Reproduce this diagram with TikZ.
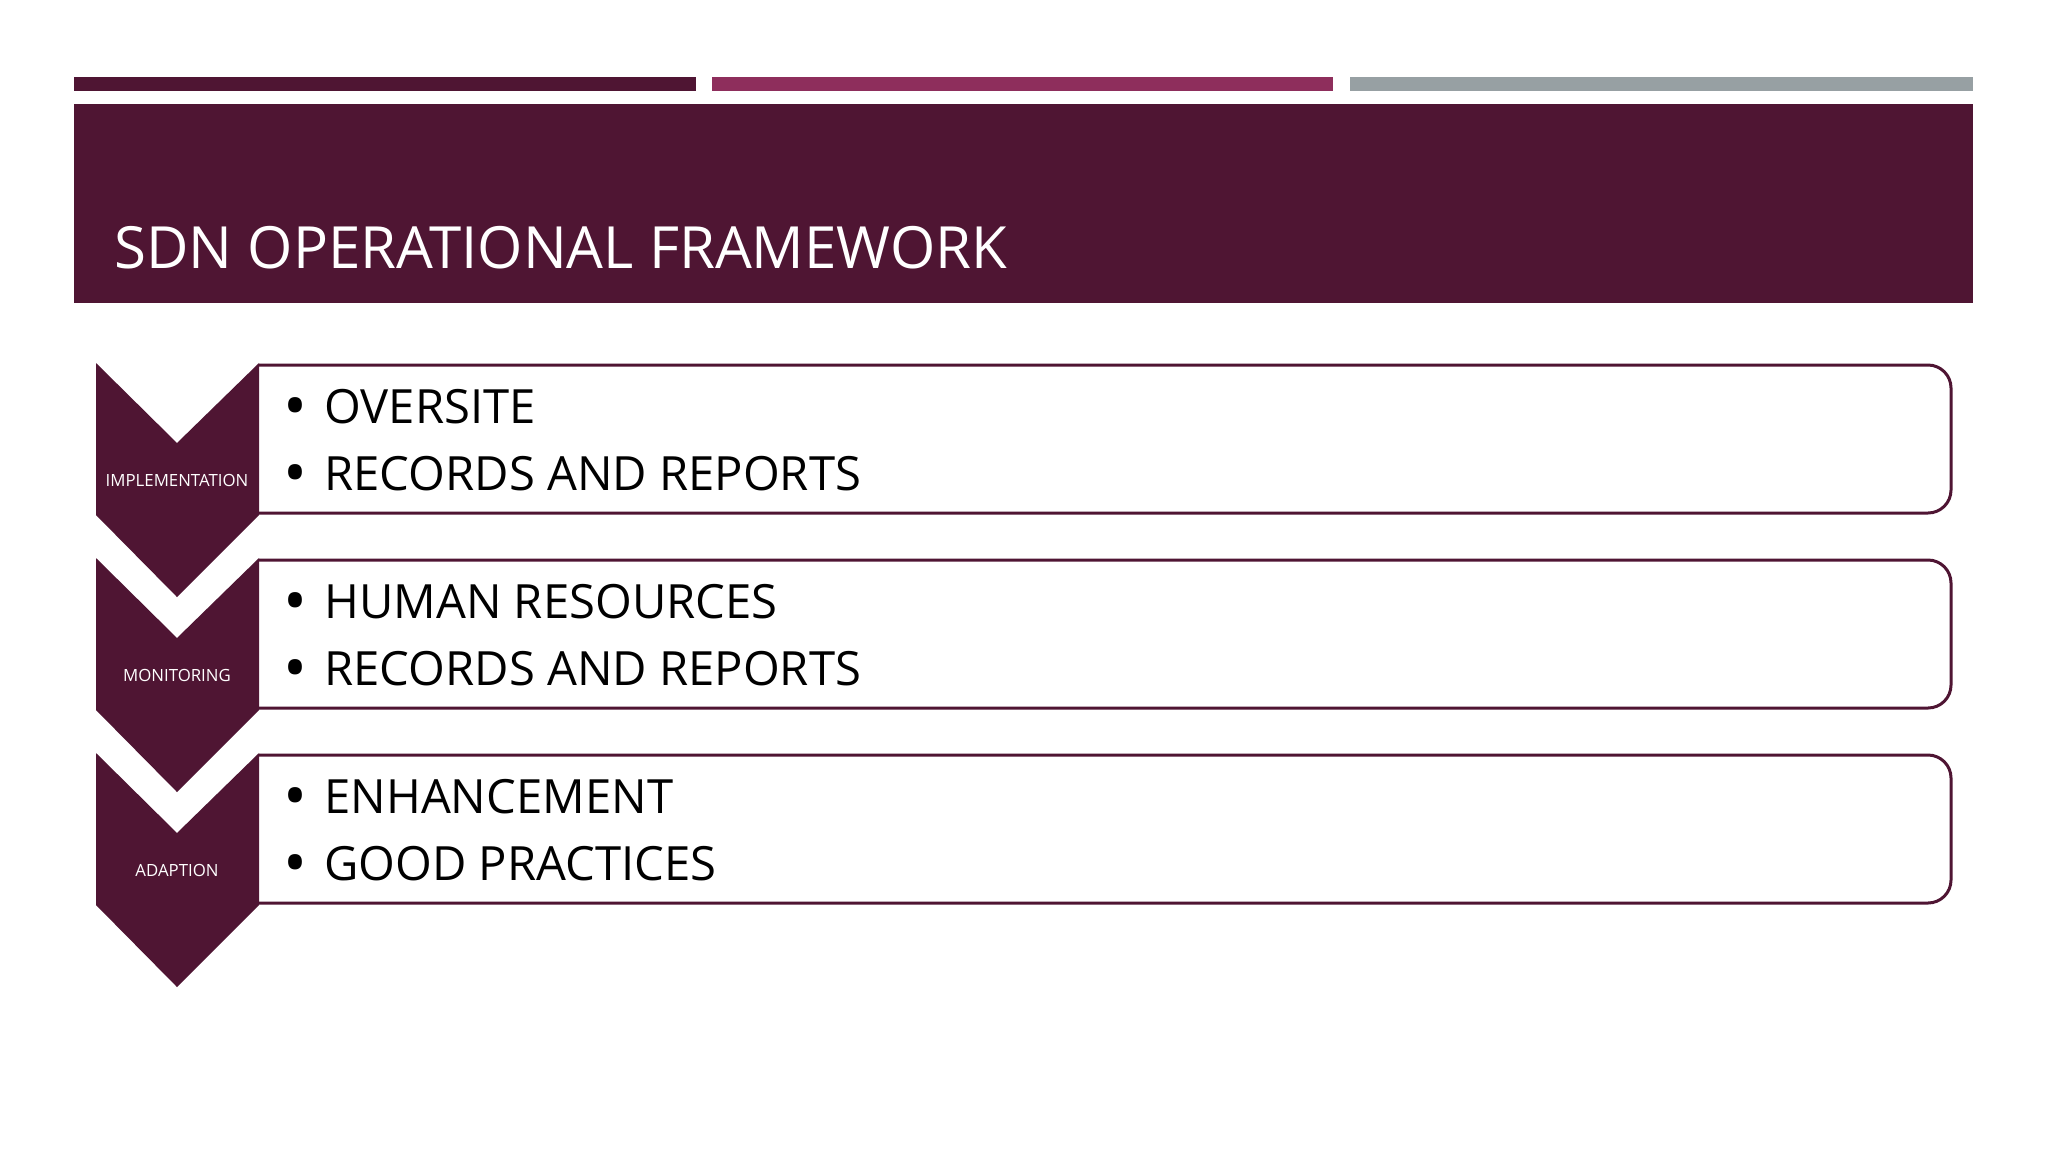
\documentclass[tikz,border=0pt]{standalone}
\usepackage{fontspec}
\setmainfont{Open Sans}
\usetikzlibrary{positioning}

\definecolor{wine}{HTML}{4F1533}
\definecolor{berry}{HTML}{8E2E5C}
\definecolor{slate}{HTML}{97A0A3}

\newcommand{\itembullet}{\makebox[18.5pt][l]{\hspace*{-2pt}\raisebox{-2.8pt}{\scalebox{1.35}{•}}}}

\begin{document}
\begin{tikzpicture}[
      x=0.5pt, y=-0.5pt,
      chevron/.style={fill=wine},
      itembox/.style={
          draw=wine,
          line width=1.5pt,
          rounded corners=11.5pt
        },
      steplabel/.style={
          text=white,
          inner sep=0pt,
          anchor=base,
          font=\fontsize{8.4}{10}\selectfont
        },
      item/.style={
          anchor=base west,
          inner sep=0pt,
          font=\fontsize{23.6}{28}\selectfont
        }
    ]
    \useasboundingbox[fill=white] (0,0) rectangle (2048,1152);

    % Colour strips and title bar
    \fill[wine]  (74,77)   rectangle (696,91);
    \fill[berry] (712,77)  rectangle (1333,91);
    \fill[slate] (1350,77) rectangle (1973,91);
    \fill[wine]  (74,104)  rectangle (1973,303);
    \node[anchor=base west, inner sep=0pt, text=white,
      font=\fontsize{29.1}{35}\selectfont] at (114,268) (title) {SDN OPERATIONAL FRAMEWORK};

    % Boxes (square on the left, rounded on the right)
    \draw[itembox] (259,365) -- (1951,365) -- (1951,513) -- (259,513);
    \draw[itembox] (259,560) -- (1951,560) -- (1951,708) -- (259,708);
    \draw[itembox] (259,755) -- (1951,755) -- (1951,903) -- (259,903);

    % Chevrons
    \fill[chevron] (96,363) -- ++(81,80) -- ++(82,-80) -- ++(0,152) -- ++(-82,82) -- ++(-81,-82) -- cycle;
    \fill[chevron] (96,558) -- ++(81,80) -- ++(82,-80) -- ++(0,152) -- ++(-82,82) -- ++(-81,-82) -- cycle;
    \fill[chevron] (96,753) -- ++(81,80) -- ++(82,-80) -- ++(0,152) -- ++(-82,82) -- ++(-81,-82) -- cycle;

    \node[steplabel] at (177,486) (impl)  {IMPLEMENTATION};
    \node[steplabel] at (177,681) (mon)   {MONITORING};
    \node[steplabel] at (177,876) (adapt) {ADAPTION};

    % Items
    \node[item] at (287,423) (oversite) {\itembullet OVERSITE};
    \node[item] at (287,490) (records)  {\itembullet RECORDS AND REPORTS};
    \node[item] at (287,618) (human)    {\itembullet HUMAN RESOURCES};
    \node[item] at (287,685) (reports)  {\itembullet RECORDS AND REPORTS};
    \node[item] at (287,813) (enhance)  {\itembullet ENHANCEMENT};
    \node[item] at (287,880) (good)     {\itembullet GOOD PRACTICES};
  \end{tikzpicture}
\end{document}
